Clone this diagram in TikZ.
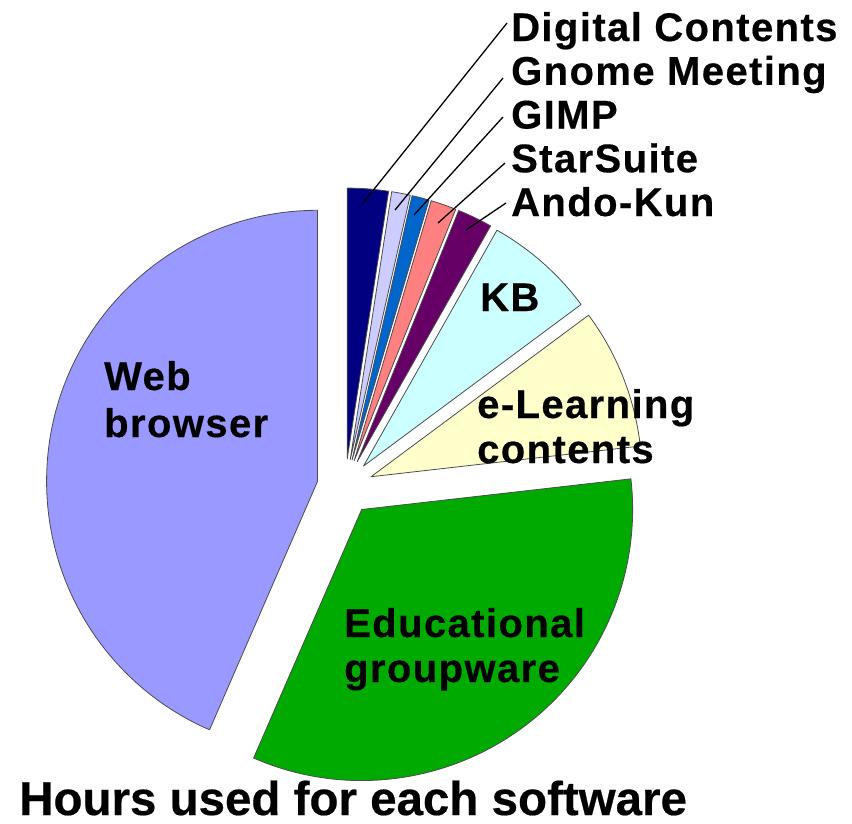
\documentclass[tikz,border=0pt]{standalone}
\usepackage{fontspec}
\setmainfont{Liberation Sans}
\newfontfamily\labfont[LetterSpace=3.5,FakeBold=0.4]{Liberation Sans Bold}
\newfontfamily\titlefont[FakeBold=0.4]{Liberation Sans Bold}
\usetikzlibrary{calc}
\definecolor{cDigital}{RGB}{0,0,128}
\definecolor{cGnome}{RGB}{204,204,255}
\definecolor{cGimp}{RGB}{0,102,204}
\definecolor{cStar}{RGB}{255,128,128}
\definecolor{cAndo}{RGB}{102,0,102}
\definecolor{cKB}{RGB}{204,255,255}
\definecolor{cElearn}{RGB}{255,255,204}
\definecolor{cGroup}{RGB}{0,170,0}
\definecolor{cWeb}{RGB}{153,153,255}
\tikzset{
  slicestyle/.style={draw=black!70, line width=0.8pt, line join=round},
  lab/.style={font=\labfont\fontsize{40}{47}\selectfont, inner sep=0pt, anchor=base west},
  titlelab/.style={font=\titlefont\fontsize{47.5}{55}\selectfont, inner sep=0pt, text depth=0pt, anchor=base west},
  leader/.style={draw=black, line width=1.3pt},
}
\newcommand{\myslice}[3]{%
  \pgfmathsetmacro\slicemid{(#2+#3)/2}%
  \path[slicestyle, fill=#1] ($(C)+(\slicemid:28)$) -- ++(#2:271)
    arc[start angle=#2, end angle=#3, radius=271] -- cycle;%
}
\begin{document}
\begin{tikzpicture}[x=1pt,y=1pt]
\useasboundingbox (0,0) rectangle (852,-823);
\coordinate (C) at (345,-487);
% slices
\myslice{cDigital}{81.2}{90}
\myslice{cGnome}{77.2}{81.2}
\myslice{cGimp}{73.5}{77.2}
\myslice{cStar}{68}{73.5}
\myslice{cAndo}{60.5}{68}
\myslice{cKB}{36.6}{60.5}
\myslice{cElearn}{6.5}{36.6}
\myslice{cGroup}{-113.5}{6.5}
\myslice{cWeb}{90}{246.5}
% outer labels
\node[lab] (ldig) at (511,-41) {Digital Contents};
\node[lab] (lgno) at (511,-84.75) {Gnome Meeting};
\node[lab] (lgim) at (511,-128.5) {GIMP};
\node[lab] (lsta) at (511,-172.25) {StarSuite};
\node[lab] (land) at (511,-216) {Ando-Kun};
% leader lines
\coordinate (pdig) at (363,-203);
\coordinate (qdig) at (507,-23);
\coordinate (pgno) at (395,-210);
\coordinate (qgno) at (503,-78);
\coordinate (pgim) at (414,-215);
\coordinate (qgim) at (503,-117);
\coordinate (psta) at (438,-223);
\coordinate (qsta) at (505,-163);
\coordinate (pand) at (466,-230);
\coordinate (qand) at (506,-203);
\draw[leader] (pdig) -- (qdig);
\draw[leader] (pgno) -- (qgno);
\draw[leader] (pgim) -- (qgim);
\draw[leader] (psta) -- (qsta);
\draw[leader] (pand) -- (qand);
% inner labels
\node[lab] (lkb) at (480,-311) {KB};
\node[lab] (lel1) at (477,-418) {e-Learning};
\node[lab] (lel2) at (477,-463) {contents};
\node[lab] (led1) at (344,-637) {Educational};
\node[lab] (led2) at (344,-682) {groupware};
\node[lab] (lweb1) at (104,-390) {Web};
\node[lab] (lweb2) at (104,-437) {browser};
% title
\node[titlelab] (title) at (19,-815) {Hours used for each software};
\end{tikzpicture}
\end{document}
